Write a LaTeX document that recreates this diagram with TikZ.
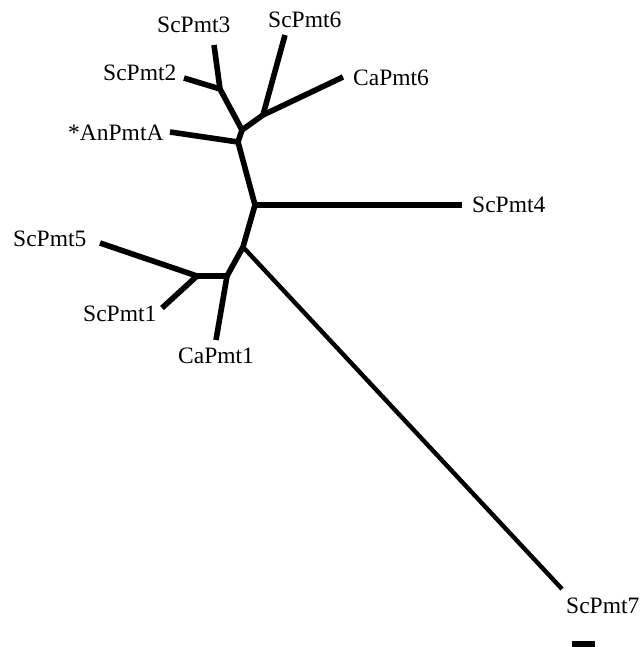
\documentclass[tikz,border=0pt]{standalone}
\usepackage{fontspec}
\setmainfont{Liberation Serif}
\begin{document}
\begin{tikzpicture}[x=1pt,y=-1pt,
  branch/.style={line width=5.6pt,line join=round,line cap=butt},
  longbranch/.style={line width=4.4pt,line cap=butt},
  lab/.style={anchor=base west,inner sep=0pt,font=\fontsize{23.5}{28}\selectfont},
  scalebar/.style={fill=black,draw=none}]
\useasboundingbox (0,0) rectangle (640,647);
% junctions
\coordinate (W) at (220,89);
\coordinate (U2) at (242,130);
\coordinate (V) at (263,115);
\coordinate (U1) at (238,142);
\coordinate (R) at (255,205);
\coordinate (L1) at (243,247);
\coordinate (L2) at (227,276);
\coordinate (L3) at (197,276);
% leaf ends
\coordinate (e2) at (184,78);
\coordinate (e3) at (214,45);
\coordinate (e6) at (285,35);
\coordinate (ec6) at (343,77);
\coordinate (eA) at (170,132);
\coordinate (e4) at (462,205);
\coordinate (e5) at (100,243);
\coordinate (e1) at (162,308);
\coordinate (ec1) at (216,340);
\coordinate (e7) at (562,589);
% branches
\draw[branch] (e2) -- (W) -- (U2) -- (V) -- (ec6);
\draw[branch] (e3) -- (W);
\draw[branch] (e6) -- (V);
\draw[branch] (eA) -- (U1) -- (R) -- (L1) -- (L2) -- (L3) -- (e5);
\draw[branch] (U2) -- (U1);
\draw[branch] (R) -- (e4);
\draw[branch] (L2) -- (ec1);
\draw[branch] (L3) -- (e1);
\draw[longbranch] (L1) -- (e7);
% labels
\node[lab] (tScPmt3) at (157,33) {ScPmt3};
\node[lab] (tScPmt6) at (268,28) {ScPmt6};
\node[lab] (tScPmt2) at (103,81) {ScPmt2};
\node[lab] (tCaPmt6) at (353,86) {CaPmt6};
\node[lab] (tAnPmtA) at (68,141) {*AnPmtA};
\node[lab] (tScPmt4) at (472,212) {ScPmt4};
\node[lab] (tScPmt5) at (13,246) {ScPmt5};
\node[lab] (tScPmt1) at (83,321) {ScPmt1};
\node[lab] (tCaPmt1) at (178,363) {CaPmt1};
\node[lab] (tScPmt7) at (566,613) {ScPmt7};
% scale bar
\path[scalebar] (572,641) rectangle (595,647);
\end{tikzpicture}
\end{document}
